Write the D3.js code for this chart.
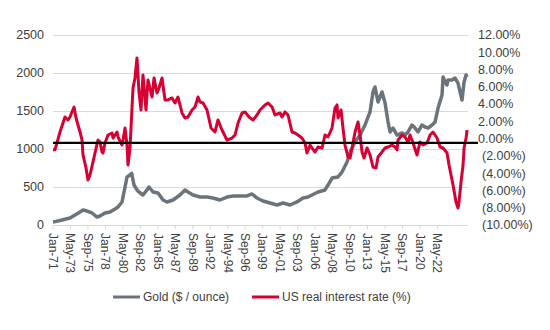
<!DOCTYPE html>
<html><head><meta charset="utf-8">
<script src="https://cdn.jsdelivr.net/npm/d3@7"></script>
<style>body{margin:0;background:#fff;} text{font-family:"Liberation Sans",Arial,sans-serif;}</style>
</head><body><svg id="chart" width="550" height="330"></svg>
<script>
const xTickLabels = ["Jan-71","May-73","Sep-75","Jan-78","May-80","Sep-82","Jan-85","May-87","Sep-89","Jan-92","May-94","Sep-96","Jan-99","May-01","Sep-03","Jan-06","May-08","Sep-10","Jan-13","May-15","Sep-17","Jan-20","May-22"];
const leftTicks = [0, 500, 1000, 1500, 2000, 2500];
const rightTicks = [-10, -8, -6, -4, -2, 0, 2, 4, 6, 8, 10, 12];
const seriesNames = ["Gold ($ / ounce)", "US real interest rate (%)"];
const refLineValue = -0.5;

const goldMonth = [0,14.4,27.2,35.3,43.3,48.1,54.5,62.5,70.5,75.3,83.3,91.3,99.4,104.2,110.6,113.8,117,118.6,123.4,126.1,129.8,134.6,137.8,144.2,150.6,153.8,160.3,168.3,176.3,182.7,192.3,203.5,211.5,216.3,224.4,235.6,246.8,256.4,267.6,278.8,288.5,299.7,310.9,318.9,326.9,336.5,347.8,359,368.6,379.8,391,400.6,408.7,415,424.7,435.9,440.7,447.1,456.7,463.1,471.2,476,484,492,500,508,512.8,516,520.8,524,527.2,532.1,536.9,540.1,544.9,551.3,559.3,564.1,568.9,575.3,580.1,584.9,591.3,596.2,601,607.4,612.2,617,623.4,625,628.2,631.4,633,639.4,644.2,649,655.4,658.7,661.9,663.5];
const goldPrice = [38,66,92,132,171,197,184,158,105,118,158,171,211,237,303,434,566,632,658,680,526,461,434,395,461,500,434,421,329,303,329,395,461,434,395,368,368,355,329,368,382,382,382,408,355,316,289,263,289,263,303,355,368,395,434,461,526,618,632,697,829,961,1092,1184,1316,1487,1750,1816,1618,1684,1750,1605,1355,1224,1276,1184,1211,1184,1224,1316,1276,1224,1316,1289,1276,1316,1355,1539,1711,1947,1882,1842,1908,1908,1934,1868,1645,1882,1974,1947];

const rateMonth = [0,3,6.4,11.2,16,19.2,24,27.2,30.4,33.7,36.9,40.1,43.3,46.5,48.1,52.9,56.1,59.3,64.1,67.3,72.1,75.3,78.5,80.1,83.3,88.1,94.6,96.2,102.6,104.2,110.6,112.2,115.4,118.6,120.2,123.4,126.6,128.2,131.4,134.6,137.8,141,144.2,149,152.2,158.7,161.9,166.7,169.9,174.7,179.5,184.3,190.7,195.5,200.3,206.7,211.5,216.3,222.8,227.6,232.4,235.6,240.4,246.8,253.2,259.6,264.4,270.8,278.8,286.9,291.7,296.5,302.9,307.7,314.1,320.5,326.9,331.7,339.7,344.6,351,355.8,363.8,367,371.8,376.6,383,387.8,392.6,399,403.8,407,411.9,419.9,424.7,431.1,435.9,440.7,447.1,451.9,455.1,456.7,461.5,464.7,467.9,472.8,476,479.2,484,488.8,492,495.2,498.4,503.2,508,512.8,517.6,520.8,527.2,532.1,536.9,543.3,548.1,551.3,552.9,559.3,564.1,568.9,572.1,576.9,583.3,588.1,593,599.4,604.2,609,615.4,620.2,625,631.4,634.6,639.4,641,645.8,649,650.6,653.8,657.1,658.7,661.9,663.5];
const rateValue = [-1.3,-1.3,-0.5,0.77,1.81,2.51,2.16,2.51,3.09,3.66,2.39,1.58,0.77,-0.16,-1.89,-3.4,-4.79,-4.21,-2.7,-1.66,-0.16,-0.39,-1.55,-1.66,-0.5,0.42,0.65,0.07,0.77,0.19,-0.74,-0.16,1.23,-0.74,-3.05,-1.08,3.55,5.86,7.02,9.34,5.4,3.32,7.37,3.32,6.79,4.82,7.02,5.29,5.86,7.02,4.48,4.48,4.71,4.13,4.82,2.97,2.39,2.51,3.32,3.66,4.82,4.24,4.13,3.32,1.23,0.77,2.16,1.0,-0.16,0.07,0.42,1.81,2.97,3.09,2.51,2.16,2.74,3.32,3.9,4.13,3.66,2.74,2.97,2.51,3.09,2.74,0.77,0.65,0.42,0.07,-0.5,-1.66,-0.74,-1.55,-0.97,-1.08,0.42,0.19,1.23,3.55,3.9,2.39,3.32,1.23,-0.74,-2.13,-2.24,-1.08,0.77,1.93,0.42,-1.55,-2.24,-1.08,-1.89,-3.28,-3.4,-2.13,-1.55,-1.08,-0.97,-0.74,-0.97,-1.32,-0.16,0.42,0.19,-0.39,0.42,-0.5,-1.89,-0.39,-0.74,-0.5,0.42,0.77,0.07,-0.97,-1.08,-1.66,-3.05,-4.79,-5.37,-7.34,-8.03,-7.34,-5.02,-3.05,-1.08,0.07,1.0];

const goldColor = "#6b737b", rateColor = "#d80032", gridColor = "#d9d9d9", textColor = "#404040";

const svg = d3.select("#chart");
const x = d3.scaleLinear().domain([0, 665]).range([53, 468]);
const yL = d3.scaleLinear().domain([0, 2500]).range([225, 35]);
const yR = d3.scaleLinear().domain([-10, 12]).range([225, 35]);

// gridlines
svg.append("g").selectAll("line").data(leftTicks).join("line")
  .attr("x1", x(0)).attr("x2", x(665))
  .attr("y1", d => yL(d) + 0.5).attr("y2", d => yL(d) + 0.5)
  .attr("stroke", gridColor).attr("stroke-width", 1);

// left axis labels
svg.append("g").selectAll("text").data(leftTicks).join("text")
  .attr("x", 44).attr("y", d => yL(d)).attr("dy", "0.35em")
  .attr("text-anchor", "end").attr("font-size", 12.5).attr("fill", textColor)
  .text(d => d);

// right axis labels
svg.append("g").selectAll("text").data(rightTicks).join("text")
  .attr("x", d => d < 0 ? 482 : 478).attr("y", d => yR(d)).attr("dy", "0.35em")
  .attr("text-anchor", "start").attr("font-size", 12.5).attr("fill", textColor)
  .text(d => d < 0 ? "(" + (-d).toFixed(2) + "%)" : d.toFixed(2) + "%");

// x ticks
const xTicks = xTickLabels.map((l, i) => ({m: i * 28, label: l}));
svg.append("g").selectAll("line").data(xTicks).join("line")
  .attr("x1", d => x(d.m)).attr("x2", d => x(d.m))
  .attr("y1", 225).attr("y2", 229)
  .attr("stroke", gridColor);
svg.append("g").selectAll("text").data(xTicks).join("text")
  .attr("transform", d => `translate(${x(d.m)},233) rotate(90)`)
  .attr("dy", "0.35em").attr("text-anchor", "start")
  .attr("font-size", 12).attr("fill", textColor)
  .text(d => d.label);

// series
const goldData = goldMonth.map((m, i) => [m, goldPrice[i]]);
const rateData = rateMonth.map((m, i) => [m, rateValue[i]]);
svg.append("path").datum(goldData)
  .attr("d", d3.line().x(d => x(d[0])).y(d => yL(d[1])))
  .attr("fill", "none").attr("stroke", goldColor).attr("stroke-width", 3.5).attr("stroke-linejoin", "round");
svg.append("path").datum(rateData)
  .attr("d", d3.line().x(d => x(d[0])).y(d => yR(d[1])))
  .attr("fill", "none").attr("stroke", rateColor).attr("stroke-width", 3).attr("stroke-linejoin", "round");

// reference line
svg.append("line")
  .attr("x1", x(0)).attr("x2", 478)
  .attr("y1", yR(refLineValue)).attr("y2", yR(refLineValue))
  .attr("stroke", "#000").attr("stroke-width", 2.2);

// legend
const legend = [{name: seriesNames[0], color: goldColor, x: 113}, {name: seriesNames[1], color: rateColor, x: 252}];
const lg = svg.append("g").selectAll("g").data(legend).join("g");
lg.append("line").attr("x1", d => d.x).attr("x2", d => d.x + 27).attr("y1", 297).attr("y2", 297)
  .attr("stroke", d => d.color).attr("stroke-width", 3);
lg.append("text").attr("x", d => d.x + 30).attr("y", 297).attr("dy", "0.35em")
  .attr("font-size", 12).attr("fill", textColor).text(d => d.name);
</script></body></html>
